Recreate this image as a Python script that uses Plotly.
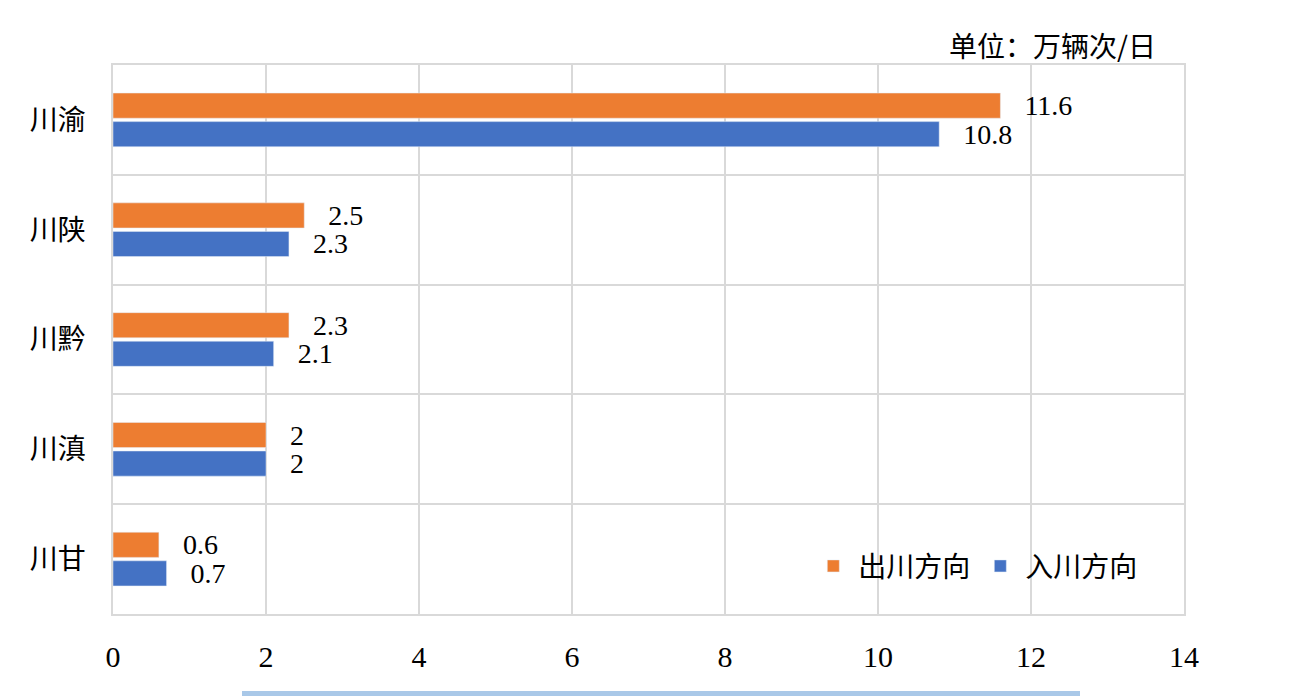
import plotly.graph_objects as go

# 单位：万辆次/日
corridors = ["川渝", "川陕", "川黔", "川滇", "川甘"]
outbound = [11.6, 2.5, 2.3, 2, 0.6]   # 出川方向
inbound = [10.8, 2.3, 2.1, 2, 0.7]    # 入川方向

num_font = "Liberation Serif, Times New Roman, serif"
cjk_font = "Noto Sans CJK SC"
pad = "\u00a0" * 3

fig = go.Figure()
fig.add_trace(go.Bar(
    y=corridors, x=outbound, orientation="h", name="出川方向",
    marker_color="#ED7D31",
    text=outbound, texttemplate=pad + "%{x}", textposition="outside",
    textfont=dict(family=num_font, size=28, color="black"),
    constraintext="none", cliponaxis=False,
))
fig.add_trace(go.Bar(
    y=corridors, x=inbound, orientation="h", name="入川方向",
    marker_color="#4472C4",
    text=inbound, texttemplate=pad + "%{x}", textposition="outside",
    textfont=dict(family=num_font, size=28, color="black"),
    constraintext="none", cliponaxis=False,
))

# the page has an 8px body margin, so the figure is 8px smaller than the window
fig.update_layout(
    width=1288, height=688,
    margin=dict(l=105, r=112, t=57, b=82),
    paper_bgcolor="white", plot_bgcolor="white",
    barmode="group", bargap=0.48, bargroupgap=0.12,
    showlegend=True,
    legend=dict(
        orientation="h", x=0.962, xanchor="right", y=0.087, yanchor="middle",
        font=dict(family=cjk_font, size=28, color="black"),
        bgcolor="rgba(0,0,0,0)", traceorder="normal", itemwidth=40,
    ),
)

fig.update_xaxes(
    range=[0, 14], dtick=2, tick0=0,
    showgrid=True, gridcolor="#d9d9d9", gridwidth=1.5,
    showline=True, linecolor="#d9d9d9", linewidth=1.5, mirror=True,
    zeroline=False, ticks="", ticklabelstandoff=15,
    tickfont=dict(family=num_font, size=30, color="black"),
)
fig.update_yaxes(
    autorange="reversed", type="category", tickson="boundaries",
    showgrid=True, gridcolor="#d9d9d9", gridwidth=1.5,
    showline=True, linecolor="#d9d9d9", linewidth=1.5, mirror=True,
    ticks="", ticklabelstandoff=20,
    tickfont=dict(family=cjk_font, size=28, color="black"),
)

fig.add_annotation(
    text="单位：万辆次/日", xref="paper", yref="paper",
    x=0.976, y=1.036, xanchor="right", yanchor="middle",
    showarrow=False, font=dict(family=cjk_font, size=28, color="black"),
)

# light blue strip along the bottom edge of the scanned page
fig.add_shape(
    type="rect", xref="paper", yref="paper",
    x0=(242 - 113) / 1071, x1=(1080 - 113) / 1071,
    y0=-82 / 549, y1=-77 / 549,
    fillcolor="#a9c8e8", line_width=0, layer="above",
)

fig.write_html("out.html")
